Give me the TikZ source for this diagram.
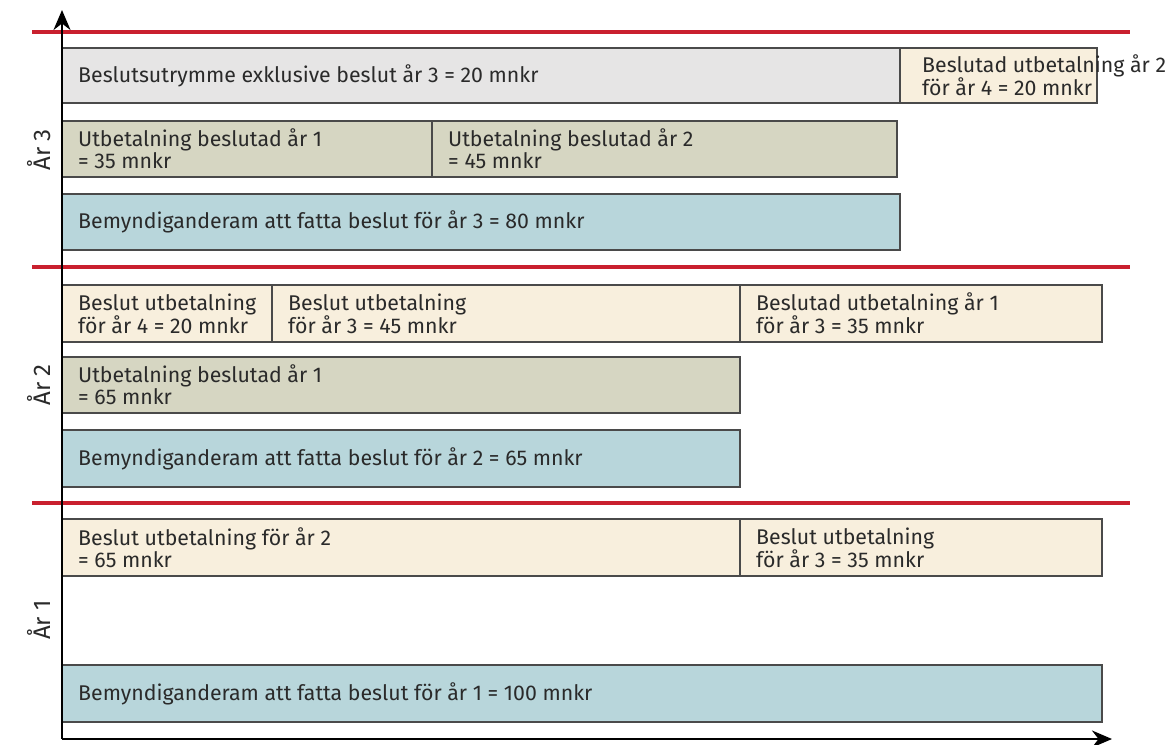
\documentclass[tikz,border=0pt]{standalone}
\usepackage{fontspec}
\setmainfont{Fira Sans}
\usetikzlibrary{arrows.meta}
\definecolor{beige}{HTML}{F8EFDD}
\definecolor{greyb}{HTML}{E6E5E5}
\definecolor{olive}{HTML}{D6D6C2}
\definecolor{blueb}{HTML}{B8D6DB}
\definecolor{redl}{HTML}{C9202E}
\definecolor{edge}{HTML}{4A4A4A}
\definecolor{txt}{HTML}{2A2A2A}
\tikzset{
  box/.style={draw=edge, line width=1.3pt, anchor=north west, inner sep=0pt, outer sep=0pt},
  lbl/.style={anchor=west, align=left, font=\fontsize{21.3}{22}\selectfont, text=txt, inner sep=0pt},
  yr/.style={rotate=90, font=\fontsize{24}{26}\selectfont, text=txt},
  sep/.style={draw=redl, line width=3.4pt},
  axis/.style={draw=black, line width=2.8pt, -{Stealth[length=20pt,width=17pt]}}
}
\newcommand{\bx}[7]{% name, x1, y1, x2, y2, fill, text
  \node[box, fill=#6, minimum width={#4-#2}, minimum height={#5-#3}] (#1) at (#2,#3) {};
  \node[lbl] (#1t) at ([xshift=16pt]#1.west) {#7};}
\begin{document}
\begin{tikzpicture}[x=1pt,y=-1pt]
\useasboundingbox (0,0) rectangle (1166,744);
% separators
\coordinate (s1a) at (32,32); \coordinate (s1b) at (1130,32);
\coordinate (s2a) at (32,267); \coordinate (s2b) at (1130,267);
\coordinate (s3a) at (32,503); \coordinate (s3b) at (1130,503);
% Year 3
\bx{g3}{62}{48}{900}{103}{greyb}{Beslutsutrymme exklusive beslut år 3 = 20 mnkr}
\node[box, fill=beige, minimum width=197pt, minimum height=55pt] (b3) at (900,48) {};
\node[lbl] (b3t) at ([xshift=22pt]b3.west) {Beslutad utbetalning år 2\\för år 4 = 20 mnkr};
\bx{o3a}{62}{121}{432}{177}{olive}{Utbetalning beslutad år 1\\= 35 mnkr}
\bx{o3b}{432}{121}{897}{177}{olive}{Utbetalning beslutad år 2\\= 45 mnkr}
\bx{u3}{62}{194}{900}{250}{blueb}{Bemyndiganderam att fatta beslut för år 3 = 80 mnkr}
% Year 2
\bx{b2a}{62}{285}{272}{342}{beige}{Beslut utbetalning\\för år 4 = 20 mnkr}
\bx{b2b}{272}{285}{740}{342}{beige}{Beslut utbetalning\\för år 3 = 45 mnkr}
\bx{b2c}{740}{285}{1102}{342}{beige}{Beslutad utbetalning år 1\\för år 3 = 35 mnkr}
\bx{o2}{62}{357}{740}{413}{olive}{Utbetalning beslutad år 1\\= 65 mnkr}
\bx{u2}{62}{430}{740}{487}{blueb}{Bemyndiganderam att fatta beslut för år 2 = 65 mnkr}
% Year 1
\bx{b1a}{62}{519}{740}{576}{beige}{Beslut utbetalning för år 2\\= 65 mnkr}
\bx{b1b}{740}{519}{1102}{576}{beige}{Beslut utbetalning\\för år 3 = 35 mnkr}
\bx{u1}{62}{665}{1102}{722}{blueb}{Bemyndiganderam att fatta beslut för år 1 = 100 mnkr}
% separators drawn over
\draw[sep] (s1a) -- (s1b);
\draw[sep] (s2a) -- (s2b);
\draw[sep] (s3a) -- (s3b);
% axes
\coordinate (o) at (62,739);
\coordinate (yt) at (62,10);
\coordinate (xt) at (1112,739);
\draw[axis] (o) -- (yt);
\draw[axis] (o) -- (xt);
% year labels
\node[yr] (y3) at (39,150) {År 3};
\node[yr] (y2) at (39,385) {År 2};
\node[yr] (y1) at (39,620) {År 1};
\end{tikzpicture}
\end{document}
